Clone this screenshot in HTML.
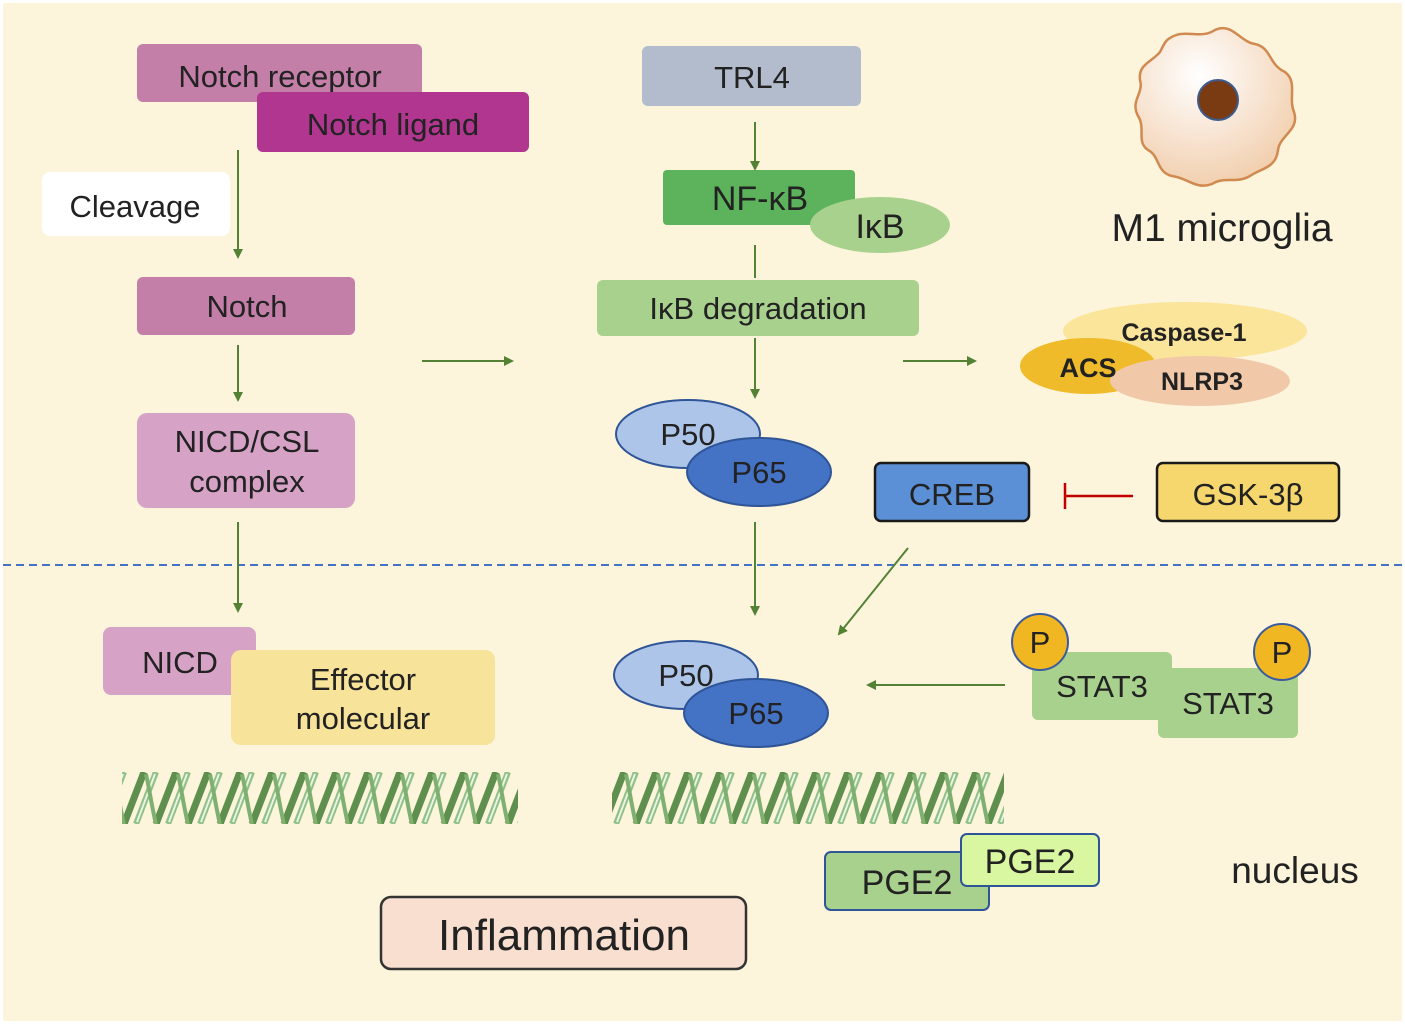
<!DOCTYPE html>
<html><head><meta charset="utf-8"><style>
html,body{margin:0;padding:0;background:#fff}
svg{display:block}
text{font-family:"Liberation Sans","DejaVu Sans",sans-serif;fill:#222}
</style></head><body>
<svg width="1405" height="1024" viewBox="0 0 1405 1024" xmlns="http://www.w3.org/2000/svg">
<defs>
<marker id="ar" markerWidth="10" markerHeight="10" refX="8" refY="5" orient="auto" markerUnits="userSpaceOnUse"><path d="M0,0 L10,5 L0,10 z" fill="#548235"/></marker>
<pattern id="dna" x="0" y="772" width="32" height="52" patternUnits="userSpaceOnUse">
<path d="M-4,52 L16,0" stroke="#5e8f4e" stroke-width="7" fill="none"/>
<path d="M28,52 L48,0" stroke="#5e8f4e" stroke-width="7" fill="none"/>
<path d="M8,52 L28,0" stroke="#8fc08a" stroke-width="6" fill="none"/>
<path d="M9,50 L27,2" stroke="#e8f5e0" stroke-width="2" fill="none"/>
<path d="M18,2 C22,20 24,36 28,52" stroke="#7fb070" stroke-width="4" fill="none"/>
</pattern>
<radialGradient id="cell" cx="0.4" cy="0.3" r="0.8"><stop offset="0" stop-color="#fff"/><stop offset="1" stop-color="#f0c9a4"/></radialGradient>
</defs>
<rect x="0" y="0" width="1405" height="1024" fill="#fff"/>
<rect x="3" y="3" width="1399" height="1018" fill="#fcf4db"/>
<line x1="3" y1="565" x2="1402" y2="565" stroke="#4472c4" stroke-width="2" stroke-dasharray="8,5"/>

<g stroke="#548235" stroke-width="2" fill="none">
<line x1="238" y1="150" x2="238" y2="257" marker-end="url(#ar)"/>
<line x1="238" y1="345" x2="238" y2="400" marker-end="url(#ar)"/>
<line x1="238" y1="522" x2="238" y2="611" marker-end="url(#ar)"/>
<line x1="422" y1="361" x2="512" y2="361" marker-end="url(#ar)"/>
<line x1="755" y1="122" x2="755" y2="169" marker-end="url(#ar)"/>
<line x1="755" y1="245" x2="755" y2="278"/>
<line x1="755" y1="338" x2="755" y2="397" marker-end="url(#ar)"/>
<line x1="755" y1="522" x2="755" y2="614" marker-end="url(#ar)"/>
<line x1="903" y1="361" x2="975" y2="361" marker-end="url(#ar)"/>
<line x1="908" y1="548" x2="839" y2="634" marker-end="url(#ar)"/>
<line x1="1005" y1="685" x2="868" y2="685" marker-end="url(#ar)"/>
</g>

<rect x="137" y="44" width="285" height="58" rx="6" fill="#c47fa8"/>
<text x="280" y="87" font-size="31" text-anchor="middle">Notch receptor</text>
<rect x="257" y="92" width="272" height="60" rx="6" fill="#b0368f"/>
<text x="393" y="135" font-size="31" text-anchor="middle">Notch ligand</text>
<rect x="42" y="172" width="188" height="64" rx="8" fill="#fff"/>
<text x="135" y="217" font-size="31" text-anchor="middle">Cleavage</text>
<rect x="137" y="277" width="218" height="58" rx="6" fill="#c47fa8"/>
<text x="247" y="317" font-size="31" text-anchor="middle">Notch</text>
<rect x="137" y="413" width="218" height="95" rx="10" fill="#d6a3c6"/>
<text x="247" y="452" font-size="31" text-anchor="middle">NICD/CSL</text>
<text x="247" y="492" font-size="31" text-anchor="middle">complex</text>
<rect x="103" y="627" width="153" height="68" rx="8" fill="#d6a3c6"/>
<text x="180" y="673" font-size="31" text-anchor="middle">NICD</text>
<rect x="231" y="650" width="264" height="95" rx="10" fill="#f8e39a"/>
<text x="363" y="690" font-size="31" text-anchor="middle">Effector</text>
<text x="363" y="729" font-size="31" text-anchor="middle">molecular</text>

<rect x="122" y="772" width="396" height="52" fill="url(#dna)"/>
<rect x="612" y="772" width="392" height="52" fill="url(#dna)"/>

<rect x="642" y="46" width="219" height="60" rx="6" fill="#b3bccc"/>
<text x="752" y="88" font-size="31" text-anchor="middle">TRL4</text>
<rect x="663" y="170" width="192" height="55" rx="4" fill="#5cb35c"/>
<text x="760" y="210" font-size="34" text-anchor="middle">NF-κB</text>
<ellipse cx="880" cy="225" rx="70" ry="28" fill="#a9d18e"/>
<text x="880" y="238" font-size="34" text-anchor="middle">IκB</text>
<rect x="597" y="280" width="322" height="56" rx="6" fill="#a9d18e"/>
<text x="758" y="319" font-size="31" text-anchor="middle">IκB degradation</text>

<ellipse cx="688" cy="434" rx="72" ry="34" fill="#aec5ea" stroke="#2f5597" stroke-width="2"/>
<text x="688" y="445" font-size="31" text-anchor="middle">P50</text>
<ellipse cx="759" cy="472" rx="72" ry="34" fill="#4472c4" stroke="#2f5597" stroke-width="2"/>
<text x="759" y="483" font-size="31" text-anchor="middle">P65</text>
<ellipse cx="686" cy="675" rx="72" ry="34" fill="#aec5ea" stroke="#2f5597" stroke-width="2"/>
<text x="686" y="686" font-size="31" text-anchor="middle">P50</text>
<ellipse cx="756" cy="713" rx="72" ry="34" fill="#4472c4" stroke="#2f5597" stroke-width="2"/>
<text x="756" y="724" font-size="31" text-anchor="middle">P65</text>

<ellipse cx="1185" cy="331" rx="122" ry="29" fill="#fbe59a"/>
<text x="1184" y="341" font-size="25" font-weight="bold" text-anchor="middle">Caspase-1</text>
<ellipse cx="1088" cy="366" rx="68" ry="28" fill="#efbb2a"/>
<ellipse cx="1200" cy="381" rx="90" ry="25" fill="#f1c9a9"/>
<text x="1088" y="377" font-size="27" font-weight="bold" text-anchor="middle">ACS</text>
<text x="1202" y="390" font-size="25" font-weight="bold" text-anchor="middle">NLRP3</text>

<rect x="875" y="463" width="154" height="58" rx="6" fill="#5b8fd6" stroke="#1a1a1a" stroke-width="2.5"/>
<text x="952" y="505" font-size="31" text-anchor="middle">CREB</text>
<line x1="1065" y1="496" x2="1133" y2="496" stroke="#c00000" stroke-width="2.5"/>
<line x1="1065" y1="483" x2="1065" y2="509" stroke="#c00000" stroke-width="2.5"/>
<rect x="1157" y="463" width="182" height="58" rx="6" fill="#f5d76e" stroke="#1a1a1a" stroke-width="2.5"/>
<text x="1248" y="505" font-size="31" text-anchor="middle">GSK-3β</text>

<rect x="1032" y="652" width="140" height="68" rx="6" fill="#a9d18e"/>
<rect x="1158" y="668" width="140" height="70" rx="6" fill="#a9d18e"/>
<text x="1102" y="697" font-size="31" text-anchor="middle">STAT3</text>
<text x="1228" y="714" font-size="31" text-anchor="middle">STAT3</text>
<circle cx="1040" cy="642" r="28" fill="#f0b722" stroke="#3a5b9e" stroke-width="2"/>
<text x="1040" y="653" font-size="31" text-anchor="middle">P</text>
<circle cx="1282" cy="652" r="28" fill="#f0b722" stroke="#3a5b9e" stroke-width="2"/>
<text x="1282" y="663" font-size="31" text-anchor="middle">P</text>

<rect x="825" y="852" width="164" height="58" rx="6" fill="#a9d18e" stroke="#2f5597" stroke-width="2"/>
<text x="907" y="894" font-size="34" text-anchor="middle">PGE2</text>
<rect x="961" y="834" width="138" height="52" rx="6" fill="#d9f7a0" stroke="#2f5597" stroke-width="2"/>
<text x="1030" y="873" font-size="34" text-anchor="middle">PGE2</text>
<text x="1295" y="883" font-size="37" text-anchor="middle">nucleus</text>

<path d="M1170,38 C1185,28 1200,40 1215,30 C1232,22 1240,42 1255,44 C1272,48 1268,64 1285,72 C1298,82 1288,98 1294,112 C1300,130 1280,135 1278,150 C1276,168 1262,168 1250,176 C1236,184 1225,176 1212,184 C1196,190 1188,178 1172,176 C1156,172 1160,156 1148,150 C1136,142 1146,128 1138,116 C1130,100 1144,94 1140,80 C1138,64 1152,62 1160,52 C1164,44 1166,40 1170,38 Z" fill="url(#cell)" stroke="#d08a50" stroke-width="2.5"/>
<circle cx="1218" cy="100" r="20" fill="#7a3a12" stroke="#3e5b8e" stroke-width="2"/>
<text x="1222" y="241" font-size="39" text-anchor="middle">M1 microglia</text>

<rect x="381" y="897" width="365" height="72" rx="10" fill="#f8dfd0" stroke="#333" stroke-width="2.5"/>
<text x="564" y="950" font-size="44" text-anchor="middle">Inflammation</text>
</svg>
</body></html>
